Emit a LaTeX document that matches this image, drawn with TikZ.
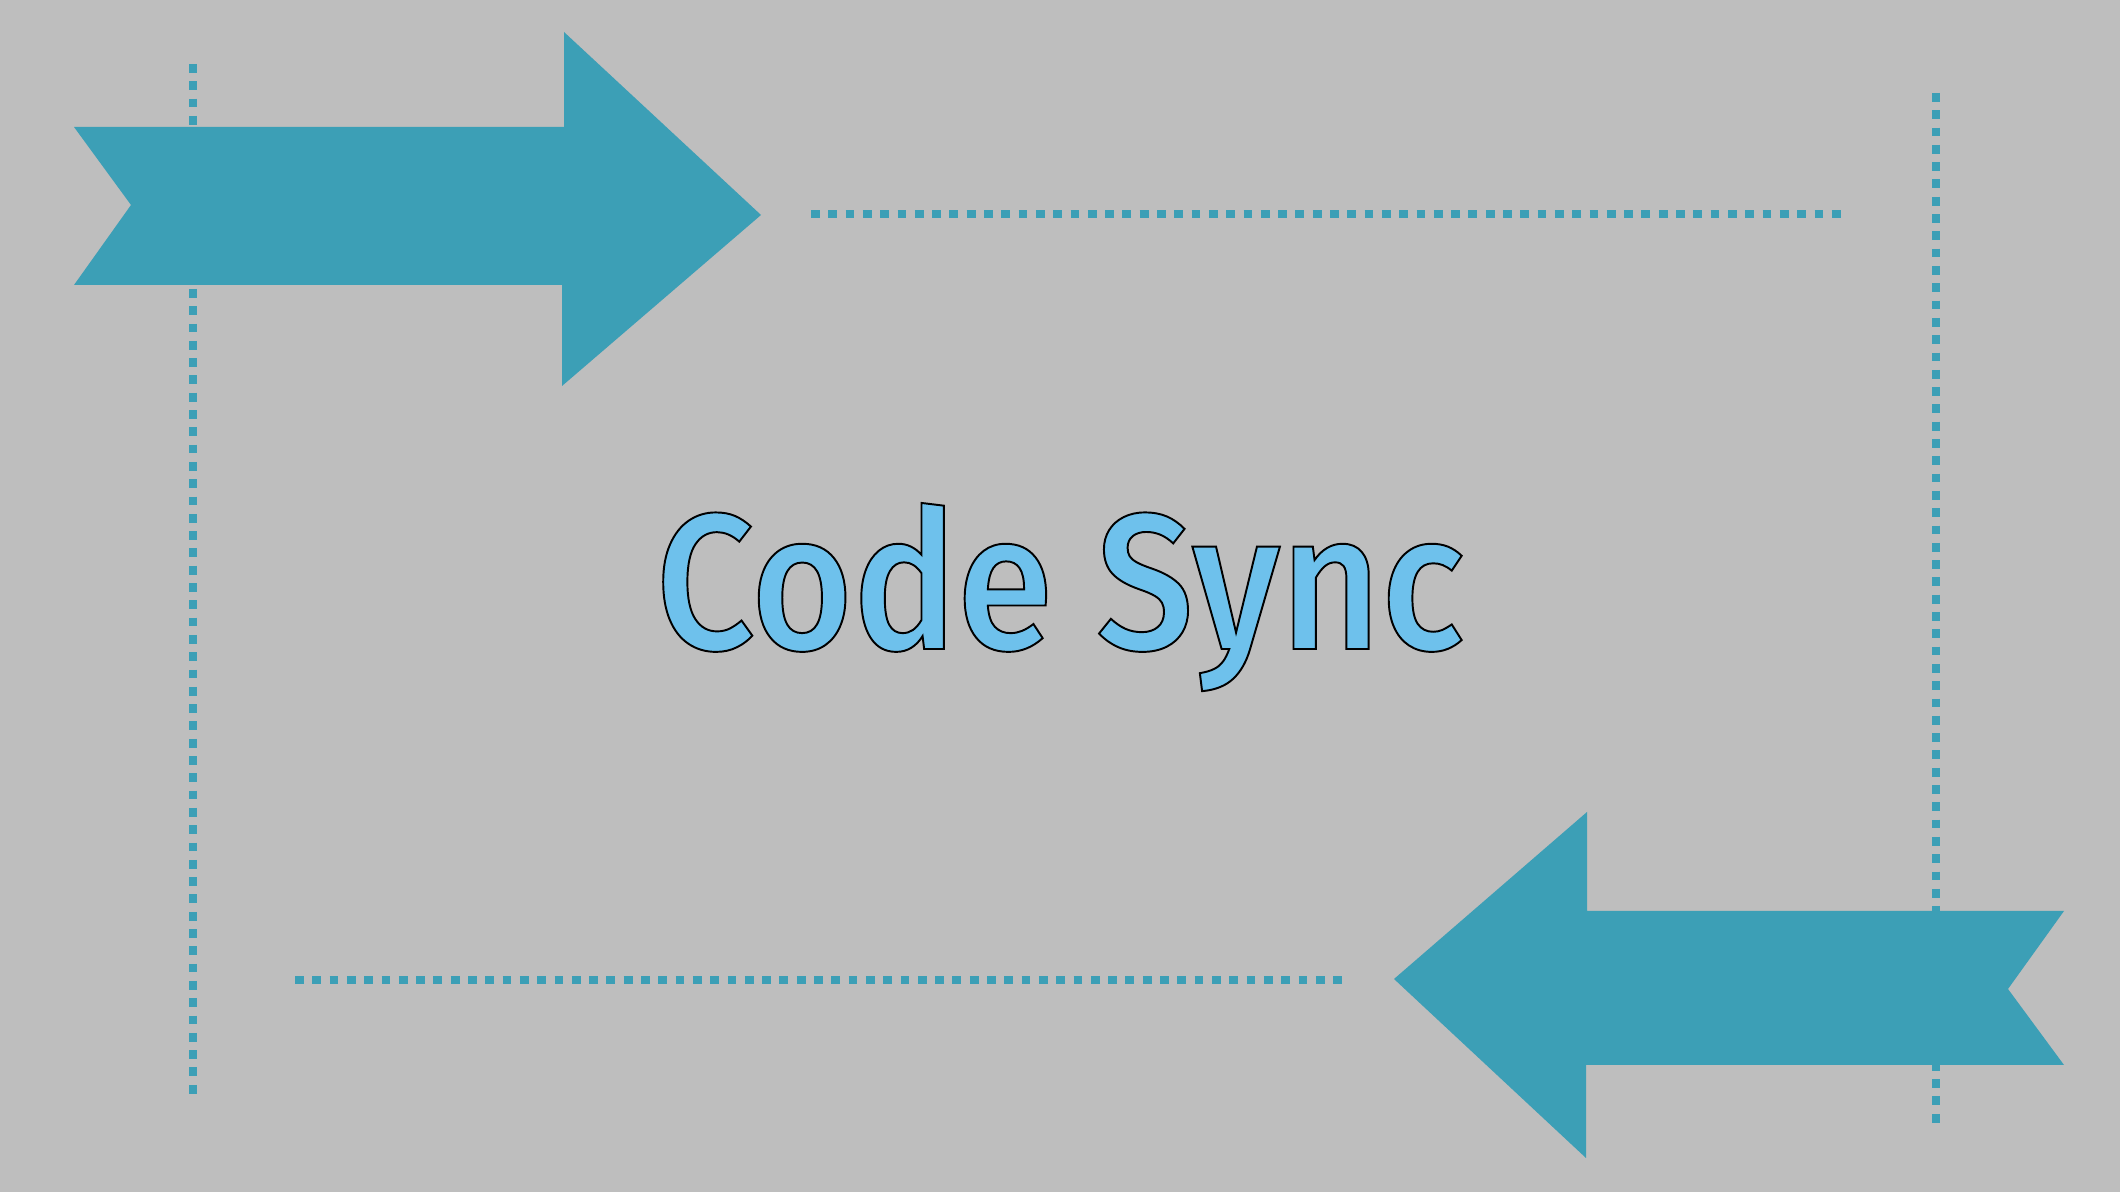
\documentclass[tikz,border=0pt]{standalone}
\usepackage{fontspec}
\usetikzlibrary{positioning}
\newfontfamily\titlefont[FakeBold=1,FakeStretch=0.9]{Fira Sans Medium}
\definecolor{bggray}{RGB}{190,190,190}
\definecolor{syncteal}{RGB}{60,159,182}
% fill light blue, stroke black
\newcommand\outlined[1]{\special{pdf:bcolor [0.43 0.757 0.925] [0 0 0]}#1\special{pdf:ecolor}}

\begin{document}
\begin{tikzpicture}[
  x=0.01cm, y=-0.01cm,
  arrowshape/.style={fill=syncteal},
  dotline/.style={
    draw=syncteal, line width=2.5pt,
    dash pattern=on 2.5pt off 2.42pt
  },
  title/.style={
    font=\titlefont\fontsize{55}{60}\selectfont,
    anchor=base, inner sep=0pt
  }
]

\fill[bggray] (0,0) rectangle (2120,1192);

% ─── Dotted guides ──────────────────────────────────────────
\draw[dotline] (193,64) -- (193,1099);
\draw[dotline] (811,214) -- (1846,214);
\draw[dotline] (1936,93) -- (1936,1127);
\draw[dotline] (295,980) -- (1348,980);

% ─── Arrows ─────────────────────────────────────────────────
\fill[arrowshape] (74,127) -- (564,127) -- (564,32) -- (761,215) -- (562,386)
  -- (562,285) -- (74,285) -- (131,205) -- cycle;
\fill[arrowshape] (2064,911) -- (1587,911) -- (1587,812) -- (1394,979) -- (1586,1158)
  -- (1586,1065) -- (2064,1065) -- (2008,989) -- cycle;

% ─── Title ──────────────────────────────────────────────────
\node[title] (title) at (1060,649) {\outlined{Code Sync}};

\end{tikzpicture}
\end{document}
